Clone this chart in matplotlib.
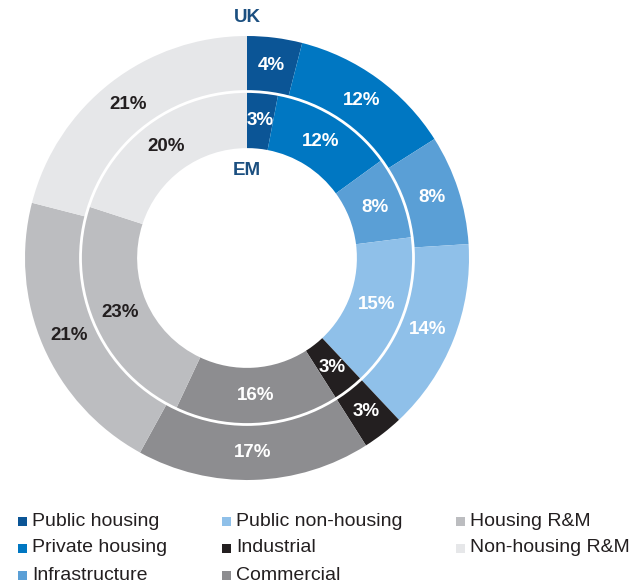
import matplotlib.pyplot as plt
from matplotlib.patches import Rectangle, Circle
import numpy as np

# segment names and colours, in ring order (clockwise from 12 o'clock)
categories = ['Public housing', 'Private housing', 'Infrastructure', 'Public non-housing',
              'Industrial', 'Commercial', 'Housing R&M', 'Non-housing R&M']
uk_values = [4, 12, 8, 14, 3, 17, 21, 21]
em_values = [3, 12, 8, 15, 3, 16, 23, 20]
colors = ['#0b5596', '#0077c2', '#5a9fd6', '#8fc0e9', '#231f20', '#8d8d90', '#bcbdc0', '#e6e7e9']
label_colors = ['white'] * 6 + ['#231f20'] * 2

W, H = 636, 585
fig = plt.figure(figsize=(W / 100, H / 100), dpi=100)

# donut axes: centre (247, 258) px, outer radius 222 px
cx, cy, R = 247, 258, 222
ax = fig.add_axes([(cx - R) / W, (H - cy - R) / H, 2 * R / W, 2 * R / H])
ax.axis('off')

bold = dict(family=['Liberation Sans Narrow', 'Liberation Sans'], fontweight='bold')

def ring(values, r_out, width):
    ax.pie(values, radius=r_out, startangle=90, counterclock=False, colors=colors,
           wedgeprops=dict(width=width, linewidth=0))
    total = float(sum(values))
    start = 90.0
    r_mid = r_out - width / 2
    for v, lc in zip(values, label_colors):
        ang = np.deg2rad(start - 360 * v / total / 2)
        ax.text(r_mid * np.cos(ang), r_mid * np.sin(ang), f'{v}%', ha='center', va='center',
                color=lc, fontsize=13.5, **bold)
        start -= 360 * v / total

ring(uk_values, 1.0, 0.25)
ring(em_values, 0.75, 0.255)
ax.add_patch(Circle((0, 0), 0.75, fill=False, edgecolor='white', linewidth=2))
ax.set_xlim(-1, 1)
ax.set_ylim(-1, 1)
ax.set_aspect('equal')

fig.text(247 / W, 1 - 18 / H, 'UK', ha='center', va='center', color='#1b4f80', fontsize=13.5, **bold)
fig.text(247 / W, 1 - 170 / H, 'EM', ha='center', va='center', color='#1b4f80', fontsize=13.5, **bold)

# legend, three columns
col_x = [18, 222, 456]
row_y = [521, 548, 575]
for i, (name, c) in enumerate(zip(categories, colors)):
    col, row = i // 3, i % 3
    x, y = col_x[col], row_y[row]
    fig.patches.append(Rectangle((x / W, (H - y - 5) / H), 9 / W, 9 / H, transform=fig.transFigure,
                                 facecolor=c, edgecolor='none'))
    fig.text((x + 14) / W, 1 - y / H, name, ha='left', va='center', fontsize=14,
             family='Liberation Sans', color='#231f20')

fig.savefig('out.png', dpi=100)
